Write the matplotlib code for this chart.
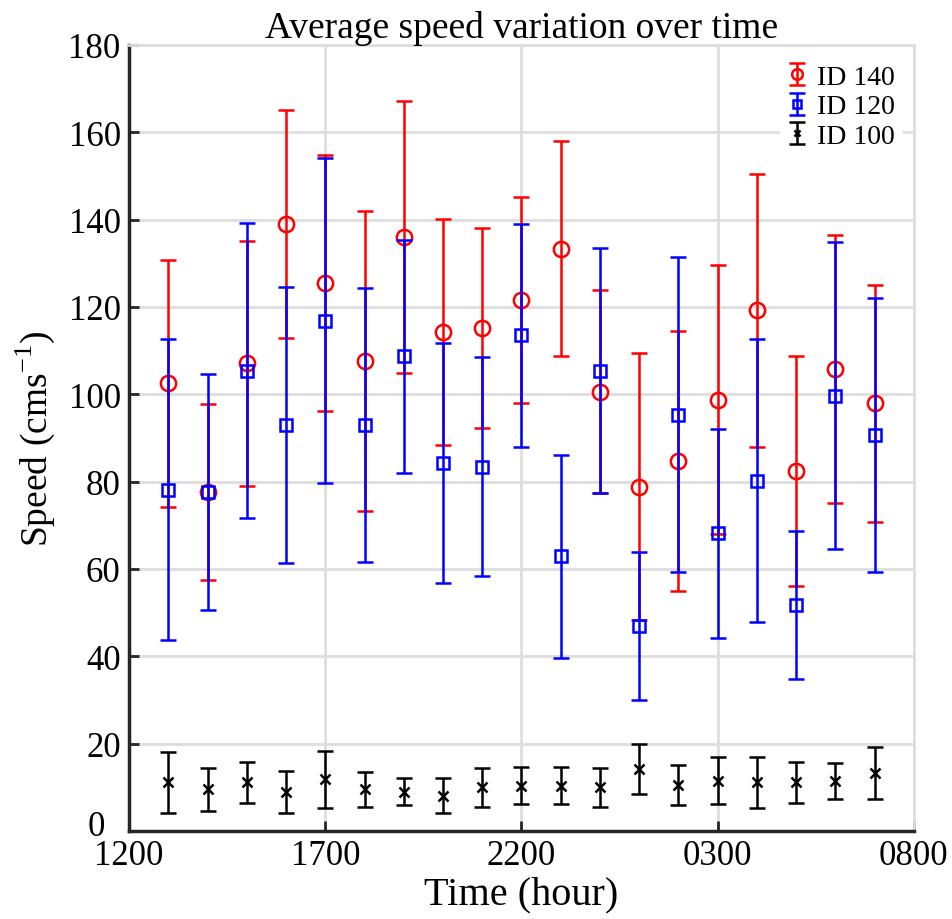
import numpy as np
import matplotlib
matplotlib.use("Agg")
import matplotlib.pyplot as plt
import matplotlib.transforms as mtransforms
from matplotlib.container import ErrorbarContainer
from matplotlib.legend_handler import HandlerErrorbar

plt.rcParams['font.family'] = ['Liberation Serif', 'DejaVu Serif']

# hours after 1200
hours = [1, 2, 3, 4, 5, 6, 7, 8, 9, 10, 11, 12, 13, 14, 15, 16, 17, 18, 19]
tick_pos = [0, 5, 10, 15, 20]
tick_labels = ['1200', '1700', '2200', '0300', '0800']

id140_mean = [102.5, 77.6, 107.1, 139.0, 125.4, 107.6, 136.0, 114.3, 115.2, 121.6,
              133.3, 100.6, 78.8, 84.7, 98.8, 119.2, 82.5, 105.8, 97.9]
id140_err = [28.2, 20.1, 28.0, 26.0, 29.3, 34.4, 31.1, 25.9, 23.0, 23.6,
             24.6, 23.2, 30.6, 29.8, 30.9, 31.2, 26.3, 30.7, 27.2]

id120_mean = [78.2, 77.6, 105.4, 93.0, 116.9, 93.0, 108.7, 84.3, 83.4, 113.5,
              62.9, 105.4, 47.0, 95.3, 68.2, 80.2, 51.7, 99.7, 90.7]
id120_err = [34.5, 27.0, 33.8, 31.6, 37.2, 31.4, 26.7, 27.4, 25.1, 25.5,
             23.2, 28.0, 17.0, 36.1, 23.9, 32.4, 17.0, 35.1, 31.3]

id100_mean = [11.1, 9.5, 11.1, 8.9, 11.8, 9.5, 9.0, 8.1, 10.0, 10.4,
              10.4, 10.0, 14.2, 10.5, 11.5, 11.1, 11.1, 11.5, 13.3]
id100_err = [7.0, 4.9, 4.6, 4.9, 6.6, 4.0, 3.1, 4.1, 4.5, 4.2,
             4.2, 4.4, 5.8, 4.5, 5.4, 5.9, 4.7, 4.1, 6.0]

fig = plt.figure(figsize=(9.53, 9.2), dpi=100)
ax = fig.add_axes([0.1354, 0.0957, 0.8236, 0.8543])

ax.errorbar(hours, id140_mean, yerr=id140_err, fmt='o', color='#ff0000', mfc='none',
            ms=11, mew=1.8, elinewidth=1.8, capsize=6, capthick=1.8, label='ID 140', zorder=3)
ax.errorbar(hours, id120_mean, yerr=id120_err, fmt='s', color='#0000ff', mfc='none',
            ms=8, mew=1.8, elinewidth=1.8, capsize=6, capthick=1.8, label='ID 120', zorder=4)
ax.errorbar(hours, id100_mean, yerr=id100_err, fmt='x', color='black',
            ms=7, mew=1.8, elinewidth=1.8, capsize=6, capthick=1.8, label='ID 100', zorder=5)

ax.set_xlim(0, 20)
ax.set_ylim(0, 180)
ax.set_xticks(tick_pos)
ax.set_xticklabels(tick_labels)
ax.set_yticks(np.arange(0, 181, 20))
ax.tick_params(direction='in', length=7, width=2, labelsize=25, colors='#262626',
               labelcolor='black', pad=6)
ax.grid(True, color='#dedede', linewidth=2)
ax.set_axisbelow(True)
for s in ['left', 'bottom']:
    ax.spines[s].set_linewidth(2.5)
    ax.spines[s].set_color('#262626')
for s in ['top', 'right']:
    ax.spines[s].set_linewidth(2)
    ax.spines[s].set_color('#dedede')

# matlab nudges the 0 label away from the x tick labels
lab0 = ax.get_yticklabels()[0]
lab0.set_transform(lab0.get_transform() +
                   mtransforms.ScaledTranslation(-0.16, 0.08, fig.dpi_scale_trans))

ax.set_title('Average speed variation over time', fontsize=27, pad=6)
ax.set_xlabel('Time (hour)', fontsize=29, labelpad=2)
ax.set_ylabel(r'Speed (cms$^{\mathregular{-1}}$)', fontsize=27, labelpad=8)

leg = ax.legend(loc='upper right', fontsize=20, frameon=True, facecolor='white',
                edgecolor='white', framealpha=1, handlelength=0.6, handletextpad=0.4,
                labelspacing=0.15, borderpad=0.3, borderaxespad=0.4, markerscale=0.7,
                handler_map={ErrorbarContainer: HandlerErrorbar(xerr_size=0.3, yerr_size=0.4)})
leg.get_frame().set_linewidth(0)

fig.savefig('out.png', dpi=100)
